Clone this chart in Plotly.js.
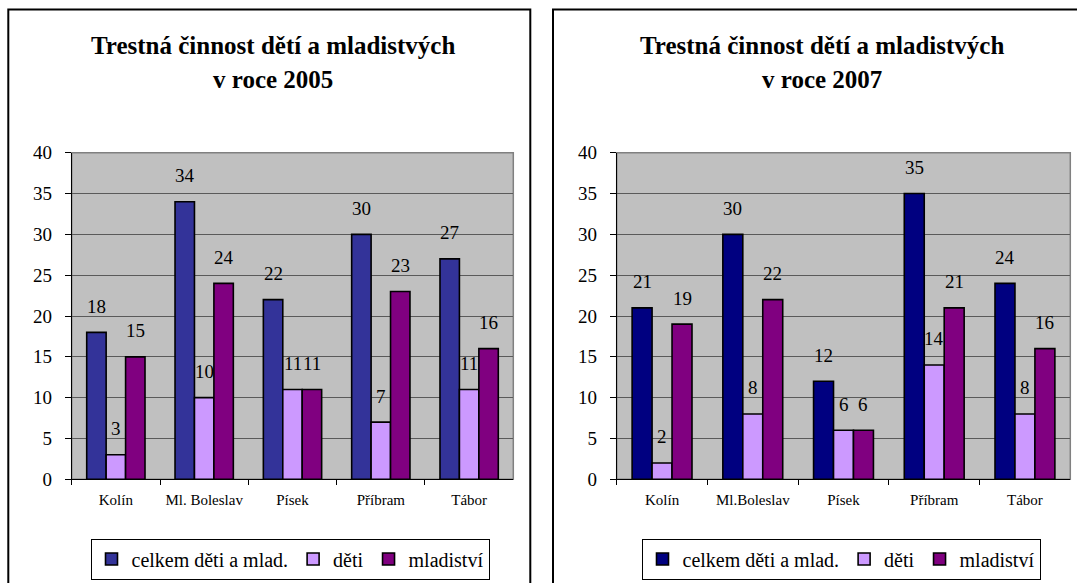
<!DOCTYPE html>
<html>
<head>
<meta charset="utf-8">
<script src="https://cdn.plot.ly/plotly-3.0.1.min.js"></script>
<style>
html,body{margin:0;padding:0;overflow:hidden;background:#fff;}
#chart{width:1077px;height:583px;}
</style>
</head>
<body>
<div id="chart"></div>
<script>
// ---- data ----
const categories2005 = ['Kolín', 'Ml. Boleslav', 'Písek', 'Příbram', 'Tábor'];
const categories2007 = ['Kolín', 'Ml.Boleslav', 'Písek', 'Příbram', 'Tábor'];
const seriesNames = ['celkem děti a mlad.', 'děti', 'mladiství'];
const celkem2005 = [18, 34, 22, 30, 27];
const deti2005 = [3, 10, 11, 7, 11];
const mladistvi2005 = [15, 24, 11, 23, 16];
const celkem2007 = [21, 30, 12, 35, 24];
const deti2007 = [2, 8, 6, 14, 8];
const mladistvi2007 = [19, 22, 6, 21, 16];
const title2005 = ['Trestná činnost dětí a mladistvých', 'v roce 2005'];
const title2007 = ['Trestná činnost dětí a mladistvých', 'v roce 2007'];
const yTickVals = [0, 5, 10, 15, 20, 25, 30, 35, 40];

// ---- style ----
const W = 1077, H = 583;
const FONT = 'Liberation Serif, Times New Roman, DejaVu Serif, serif';
const colors2005 = ['#333399', '#CC99FF', '#800080'];
const colors2007 = ['#000080', '#CC99FF', '#800080'];
const bargap = 0.34;
const dom1x = [71.7 / W, 513.3 / W];
const dom2x = [616.7 / W, 1070.3 / W];
const domY = [1 - 479.3 / H, 1 - 152.7 / H];

function makeTraces(cats, series, colors, xa, ya, legendId) {
  return series.map((vals, j) => ({
    type: 'bar',
    name: seriesNames[j],
    x: cats,
    y: vals,
    xaxis: xa,
    yaxis: ya,
    legend: legendId,
    marker: {color: colors[j], line: {color: '#000', width: 1.6}},
    hoverinfo: 'skip'
  }));
}

const s2005 = [celkem2005, deti2005, mladistvi2005];
const s2007 = [celkem2007, deti2007, mladistvi2007];
const data = [
  ...makeTraces(categories2005, s2005, colors2005, 'x', 'y', 'legend'),
  ...makeTraces(categories2007, s2007, colors2007, 'x2', 'y2', 'legend2')
];

function labelAnnots(cats, series, xref, yref, dom) {
  const catW = (dom[1] - dom[0]) * W / cats.length;
  const bw = catW * (1 - bargap) / series.length;
  const out = [];
  series.forEach((vals, j) => {
    vals.forEach((v, i) => {
      out.push({
        xref: xref, yref: yref, x: cats[i], y: v,
        xshift: (j - (series.length - 1) / 2) * bw,
        yshift: 26, yanchor: 'middle', xanchor: 'center',
        text: String(v), showarrow: false,
        font: {family: FONT, size: 19, color: '#000'}
      });
    });
  });
  return out;
}

function titleAnnots(lines, cx) {
  const ys = [45, 80];
  return lines.map((t, k) => ({
    xref: 'paper', yref: 'paper', x: cx / W, y: 1 - ys[k] / H,
    xanchor: 'center', yanchor: 'middle', showarrow: false,
    text: '<b>' + t + '</b>',
    font: {family: FONT, size: 25, color: '#000'}
  }));
}

function xAxis(dom, anchor) {
  return {
    domain: dom, anchor: anchor, type: 'category',
    showgrid: false, zeroline: false,
    showline: true, linecolor: '#000', linewidth: 1,
    ticks: 'outside', ticklen: 5, tickcolor: '#000', tickson: 'boundaries',
    ticklabelstandoff: 7,
    tickfont: {family: FONT, size: 15, color: '#000'},
    automargin: false, fixedrange: true
  };
}
function yAxis(anchor) {
  return {
    domain: domY, anchor: anchor, range: [0, 40],
    tickvals: yTickVals, ticktext: yTickVals.map(String),
    showgrid: true, gridcolor: '#5a5a5a', gridwidth: 1,
    zeroline: false, showline: true, linecolor: '#000', linewidth: 1,
    ticks: 'outside', ticklen: 6, tickcolor: '#000',
    ticklabelstandoff: 9,
    tickfont: {family: FONT, size: 19, color: '#000'},
    automargin: false, fixedrange: true
  };
}

function legendDef(cx) {
  return {
    orientation: 'h', x: cx / W, xanchor: 'center', y: 1 - 559 / H, yanchor: 'middle',
    bgcolor: '#fff', bordercolor: '#000', borderwidth: 1,
    font: {family: FONT, size: 20, color: '#000'},
    itemwidth: 30, itemclick: false, itemdoubleclick: false
  };
}

const layout = {
  width: W, height: H, autosize: false,
  margin: {l: 0, r: 0, t: 0, b: 0},
  paper_bgcolor: '#fff', plot_bgcolor: '#C0C0C0',
  barmode: 'group', bargap: bargap, bargroupgap: 0,
  showlegend: true,
  xaxis: xAxis(dom1x, 'y'),
  yaxis: yAxis('x'),
  xaxis2: xAxis(dom2x, 'y2'),
  yaxis2: yAxis('x2'),
  legend: legendDef(290),
  legend2: legendDef(841),
  annotations: [
    ...titleAnnots(title2005, 273),
    ...titleAnnots(title2007, 822),
    ...labelAnnots(categories2005, s2005, 'x', 'y', dom1x),
    ...labelAnnots(categories2007, s2007, 'x2', 'y2', dom2x)
  ],
  shapes: [
    {type: 'rect', xref: 'paper', yref: 'paper', x0: 8.3 / W, x1: 530.3 / W, y0: -0.2, y1: 1 - 9.4 / H,
     line: {color: '#000', width: 2}, fillcolor: 'rgba(0,0,0,0)', layer: 'above'},
    {type: 'rect', xref: 'paper', yref: 'paper', x0: 553 / W, x1: 1.1, y0: -0.2, y1: 1 - 9.4 / H,
     line: {color: '#000', width: 2}, fillcolor: 'rgba(0,0,0,0)', layer: 'above'},
    {type: 'rect', xref: 'x domain', yref: 'y domain', x0: 0, x1: 1, y0: 0, y1: 1,
     line: {color: '#808080', width: 1.5}, fillcolor: 'rgba(0,0,0,0)', layer: 'below'},
    {type: 'rect', xref: 'x2 domain', yref: 'y2 domain', x0: 0, x1: 1, y0: 0, y1: 1,
     line: {color: '#808080', width: 1.5}, fillcolor: 'rgba(0,0,0,0)', layer: 'below'}
  ]
};

Plotly.newPlot('chart', data, layout, {staticPlot: true, displayModeBar: false});
</script>
</body>
</html>
